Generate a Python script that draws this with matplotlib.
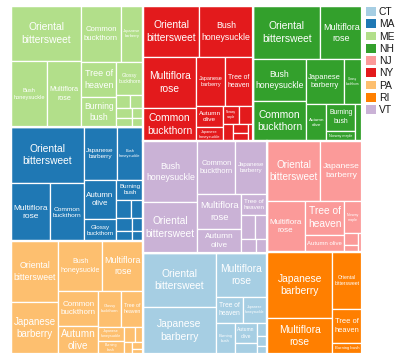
import matplotlib
matplotlib.use("Agg")
import matplotlib.pyplot as plt
from matplotlib.patches import Rectangle, Patch

# ---------------- data ----------------
states = ["CT", "MA", "ME", "NH", "NJ", "NY", "PA", "RI", "VT"]
state_colors = ["#a6cee3", "#1f78b4", "#b2df8a", "#33a02c", "#fb9a99",
                "#e31a1c", "#fdbf6f", "#ff7f00", "#cab2d6"]

ct_species = ["Oriental bittersweet", "Japanese barberry", "Multiflora rose", "Tree of heaven",
              "Japanese honeysuckle", "Burning bush", "Autumn olive", "Norway maple",
              "Amur cork tree", "Glossy buckthorn", "Privet"]
ct_values = [3815, 3320, 2200, 670, 610, 590, 455, 230, 125, 95, 75]

ma_species = ["Oriental bittersweet", "Multiflora rose", "Common buckthorn", "Japanese barberry",
              "Bush honeysuckle", "Autumn olive", "Glossy buckthorn", "Burning bush",
              "Tree of heaven", "Norway maple", "Amur cork tree", "Japanese honeysuckle",
              "Privet", "European barberry"]
ma_values = [4000, 2200, 1900, 1700, 1380, 1250, 710, 520, 265, 210, 200, 160, 140, 110]

me_species = ["Oriental bittersweet", "Bush honeysuckle", "Multiflora rose", "Common buckthorn",
              "Japanese barberry", "Tree of heaven", "Burning bush", "Glossy buckthorn",
              "Norway maple", "Japanese honeysuckle", "Autumn olive", "Amur cork tree",
              "Privet", "Black locust"]
me_values = [3800, 2300, 2170, 2130, 1230, 1180, 1000, 880, 185, 165, 155, 145, 110, 90]

nh_species = ["Oriental bittersweet", "Multiflora rose", "Bush honeysuckle", "Common buckthorn",
              "Japanese barberry", "Glossy buckthorn", "Autumn olive", "Burning bush",
              "Norway maple", "Common barberry"]
nh_values = [3520, 2160, 2150, 2100, 1620, 800, 745, 740, 300, 255]

nj_species = ["Oriental bittersweet", "Japanese barberry", "Multiflora rose", "Tree of heaven",
              "Autumn olive", "Norway maple", "Burning bush", "Privet", "Glossy buckthorn"]
nj_values = [3085, 2420, 1880, 1300, 690, 550, 155, 105, 65]

ny_species = ["Oriental bittersweet", "Bush honeysuckle", "Multiflora rose", "Common buckthorn",
              "Japanese barberry", "Tree of heaven", "Autumn olive", "Japanese honeysuckle",
              "Norway maple", "European barberry", "Privet", "Black locust",
              "Amur cork tree", "Common barberry"]
ny_values = [2760, 2660, 2610, 1740, 1380, 1330, 540, 385, 265, 245, 170, 135, 115, 90]

pa_species = ["Oriental bittersweet", "Japanese barberry", "Bush honeysuckle", "Multiflora rose",
              "Common buckthorn", "Autumn olive", "Glossy buckthorn", "Tree of heaven",
              "Japanese honeysuckle", "Burning bush", "Norway maple", "Privet",
              "European barberry", "Black locust", "Amur cork tree"]
pa_values = [2772, 2400, 2100, 1974, 1400, 1080, 790, 782, 345, 322, 165, 120, 100, 80, 60]

ri_species = ["Japanese barberry", "Multiflora rose", "Oriental bittersweet", "Tree of heaven",
              "Burning bush"]
ri_values = [4150, 2300, 1650, 975, 325]

vt_species = ["Bush honeysuckle", "Oriental bittersweet", "Common buckthorn", "Japanese barberry",
              "Multiflora rose", "Autumn olive", "Tree of heaven", "Norway maple", "Privet",
              "Japanese honeysuckle", "Glossy buckthorn"]
vt_values = [3200, 2660, 1930, 1620, 1490, 1010, 545, 315, 290, 190, 150]

species_by_state = {"CT": (ct_species, ct_values), "MA": (ma_species, ma_values),
                    "ME": (me_species, me_values), "NH": (nh_species, nh_values),
                    "NJ": (nj_species, nj_values), "NY": (ny_species, ny_values),
                    "PA": (pa_species, pa_values), "RI": (ri_species, ri_values),
                    "VT": (vt_species, vt_values)}

# ---------------- layout (pivot-by-size ordered treemap) ----------------
ORIENT = 1.09


def pivot(items, x, y, w, h, out):
    n = len(items)
    if n == 0 or w <= 0 or h <= 0:
        return
    if n == 1:
        out[items[0][0]] = (x, y, w, h)
        return
    vals = [v for _, v in items]
    total = float(sum(vals))
    p = vals.index(max(vals))
    L1, P, rest = items[:p], items[p], items[p + 1:]
    s1 = sum(v for _, v in L1)
    pv = P[1]
    wide = w * ORIENT >= h
    best = None
    for k in range(len(rest) + 1):
        s2 = sum(v for _, v in rest[:k])
        if wide:
            cw = w * (pv + s2) / total
            ph = h * pv / (pv + s2)
            ar = max(cw / ph, ph / cw)
        else:
            rh = h * (pv + s2) / total
            pw = w * pv / (pv + s2)
            ar = max(rh / pw, pw / rh)
        if best is None or ar < best[0]:
            best = (ar, k)
    k = best[1]
    L2, L3 = rest[:k], rest[k:]
    s2 = sum(v for _, v in L2)
    if wide:
        w1 = w * s1 / total
        cw = w * (pv + s2) / total
        ph = h * pv / (pv + s2)
        pivot(L1, x, y, w1, h, out)
        out[P[0]] = (x + w1, y, cw, ph)
        pivot(L2, x + w1, y + ph, cw, h - ph, out)
        pivot(L3, x + w1 + cw, y, w - w1 - cw, h, out)
    else:
        h1 = h * s1 / total
        rh = h * (pv + s2) / total
        pw = w * pv / (pv + s2)
        pivot(L1, x, y, w, h1, out)
        out[P[0]] = (x, y + h1, pw, rh)
        pivot(L2, x + pw, y + h1, w - pw, rh, out)
        pivot(L3, x, y + h1 + rh, w, h - h1 - rh, out)


W_PX, H_PX = 351.0, 348.0
state_totals = {s: sum(species_by_state[s][1]) for s in states}
state_items = sorted(((s, state_totals[s]) for s in states), key=lambda t: -t[1])
state_rects = {}
pivot(state_items, 0.0, 0.0, W_PX, H_PX, state_rects)

# ---------------- drawing ----------------
FONT = "Liberation Sans"
LS = 1.32
fig = plt.figure(figsize=(4.0, 3.58), dpi=100)
ax = fig.add_axes([11 / 400, 4 / 358, W_PX / 400, H_PX / 358])
ax.set_xlim(0, W_PX)
ax.set_ylim(H_PX, 0)
ax.axis("off")

renderer = fig.canvas.get_renderer()
_cache = {}


def measure(s):
    if s not in _cache:
        t = ax.text(0, 0, s, fontsize=10, family=FONT, linespacing=LS)
        bb = t.get_window_extent(renderer)
        t.remove()
        _cache[s] = (bb.width, bb.height)
    return _cache[s]


def options(name):
    words = name.split()
    opts = [name]
    for i in range(1, len(words)):
        opts.append(" ".join(words[:i]) + "\n" + " ".join(words[i:]))
    if len(words) >= 3:
        opts.append("\n".join(words))
    return opts


MAXSIZE, MINSIZE, PADX, PADY = 7.4, 2.2, 2.5, 2.5


def place_label(name, x, y, w, h):
    aw, ah = w - 2 * PADX, h - 2 * PADY
    if aw <= 0 or ah <= 0:
        return
    best = None
    for o in options(name):
        mw, mh = measure(o)
        size = 10 * min(aw / mw, ah / mh)
        if size >= MAXSIZE:
            best = (MAXSIZE, o)
            break
        if best is None or size > best[0] + 1e-9:
            best = (size, o)
    size, txt = best
    if size < MINSIZE:
        return
    ax.text(x + w / 2, y + h / 2, txt, fontsize=size, family=FONT, color="white",
            ha="center", va="center", linespacing=LS, multialignment="center")


for s, col in zip(states, state_colors):
    sx, sy, sw, sh = state_rects[s]
    names, vals = species_by_state[s]
    items = sorted(zip(names, vals), key=lambda t: -t[1])
    rects = {}
    pivot(items, sx, sy, sw, sh, rects)
    for nm, (x, y, w, h) in rects.items():
        ax.add_patch(Rectangle((x, y), w, h, facecolor=col, edgecolor="white", linewidth=0.9))
        place_label(nm, x, y, w, h)
    ax.add_patch(Rectangle((sx, sy), sw, sh, facecolor="none", edgecolor="white", linewidth=1.6))

handles = [Patch(facecolor=c, edgecolor="none", label=s) for s, c in zip(states, state_colors)]
fig.legend(handles=handles, loc="upper left", bbox_to_anchor=(366 / 400, 1 - 7 / 358),
           frameon=False, prop={"family": FONT, "size": 7.4}, handlelength=0.95,
           handleheight=0.95, handletextpad=0.3, labelspacing=0.22, borderpad=0,
           borderaxespad=0, labelcolor="#1a1a1a")

fig.savefig("out.png", dpi=100)
